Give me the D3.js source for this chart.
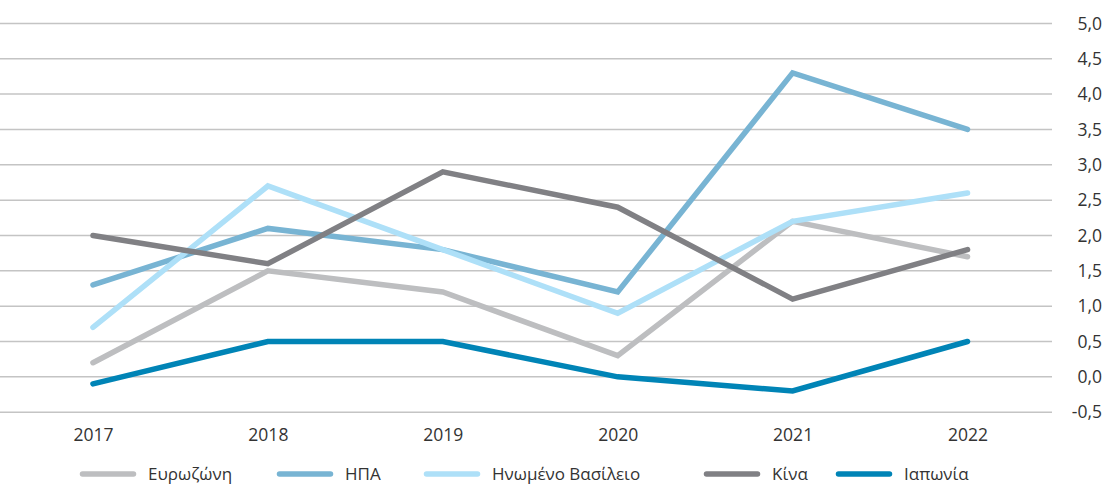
<!DOCTYPE html>
<html>
<head>
<meta charset="utf-8">
<script src="https://cdn.jsdelivr.net/npm/d3@7"></script>
<style>
  body { margin: 0; background: #fff; }
  text { font-family: "Open Sans", sans-serif; fill: #333; }
</style>
</head>
<body>
<div id="linechart"></div>
<script>
// data
const years = ["2017", "2018", "2019", "2020", "2021", "2022"];
const eurozone = [0.2, 1.5, 1.2, 0.3, 2.2, 1.7];
const usa = [1.3, 2.1, 1.8, 1.2, 4.3, 3.5];
const uk = [0.7, 2.7, 1.8, 0.9, 2.2, 2.6];
const china = [2.0, 1.6, 2.9, 2.4, 1.1, 1.8];
const japan = [-0.1, 0.5, 0.5, 0.0, -0.2, 0.5];
const yTicks = [-0.5, 0, 0.5, 1, 1.5, 2, 2.5, 3, 3.5, 4, 4.5, 5];
const seriesNames = ["Ευρωζώνη", "ΗΠΑ", "Ηνωμένο Βασίλειο", "Κίνα", "Ιαπωνία"];

const series = [
  { name: seriesNames[0], values: eurozone, color: "#bdbec0" },
  { name: seriesNames[1], values: usa, color: "#78b4d3" },
  { name: seriesNames[2], values: uk, color: "#aee0f8" },
  { name: seriesNames[3], values: china, color: "#808084" },
  { name: seriesNames[4], values: japan, color: "#0084b6" }
];

const width = 1107;
const height = 485;

const svg = d3.select("#linechart")
  .append("svg")
  .attr("width", width)
  .attr("height", height);

const xScale = d3.scalePoint()
  .domain(years)
  .range([5.5, 1055])
  .padding(0.5);

const yScale = d3.scaleLinear()
  .domain([-0.5, 5])
  .range([412.2, 23.4]);

// gridlines
svg.append("g")
  .selectAll("line")
  .data(yTicks)
  .enter()
  .append("line")
  .attr("x1", 0)
  .attr("x2", 1052)
  .attr("y1", d => yScale(d))
  .attr("y2", d => yScale(d))
  .attr("stroke", "#c4c4c4")
  .attr("stroke-width", 1.5);

// right axis labels
const fmt = d => d3.format(".1f")(d).replace(".", ",").replace("−", "-");
const yAxis = d3.axisRight(yScale)
  .tickValues(yTicks)
  .tickFormat(fmt)
  .tickSize(0)
  .tickPadding(0);

svg.append("g")
  .attr("class", "y-axis")
  .attr("transform", "translate(1102, 0)")
  .call(yAxis)
  .call(g => g.select(".domain").remove())
  .call(g => g.selectAll("text")
    .attr("text-anchor", "end")
    .attr("fill", "#333")
    .style("font-size", "17.5px"));

// bottom axis labels
const xAxis = d3.axisBottom(xScale).tickSize(0).tickPadding(0);
svg.append("g")
  .attr("class", "x-axis")
  .attr("transform", "translate(0, 429)")
  .call(xAxis)
  .call(g => g.select(".domain").remove())
  .call(g => g.selectAll("text")
    .attr("fill", "#333")
    .style("font-size", "17.5px"));

const lineGenerator = d3.line()
  .x((d, i) => xScale(years[i]))
  .y(d => yScale(d));

svg.append("g")
  .selectAll("path")
  .data(series)
  .enter()
  .append("path")
  .attr("fill", "none")
  .attr("stroke", d => d.color)
  .attr("stroke-width", 5.5)
  .attr("stroke-linecap", "round")
  .attr("stroke-linejoin", "miter")
  .attr("d", d => lineGenerator(d.values));

// legend
const legendX = [80, 277, 424, 704, 836];
const legend = svg.append("g")
  .attr("transform", "translate(0, 474)");

const items = legend.selectAll("g")
  .data(series)
  .enter()
  .append("g")
  .attr("transform", (d, i) => `translate(${legendX[i]}, 0)`);

items.append("line")
  .attr("x1", 2.5)
  .attr("x2", 53.5)
  .attr("stroke", d => d.color)
  .attr("stroke-width", 5.5)
  .attr("stroke-linecap", "round");

items.append("text")
  .attr("x", 68)
  .attr("dy", "0.35em")
  .style("font-size", "17px")
  .text(d => d.name);
</script>
</body>
</html>
